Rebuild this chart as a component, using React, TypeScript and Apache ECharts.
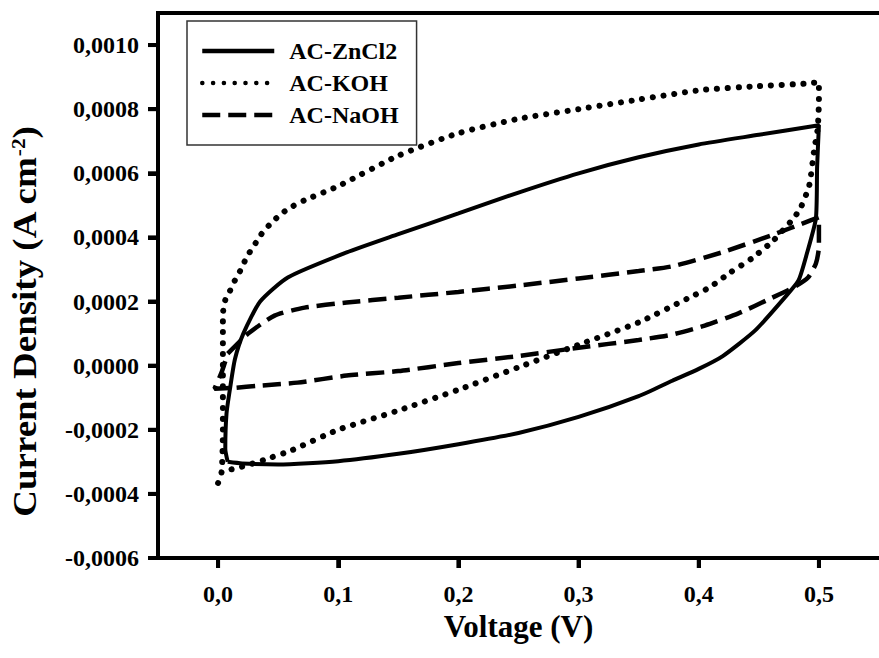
import React, { useEffect, useRef } from "react";
import * as echarts from "echarts";

const seriesNames = ["AC-ZnCl2", "AC-KOH", "AC-NaOH"];
const xTicks = [0, 0.1, 0.2, 0.3, 0.4, 0.5];
const yTicks = [-0.0006, -0.0004, -0.0002, 0, 0.0002, 0.0004, 0.0006, 0.0008, 0.001];

// Voltage (V) and current density (in units of 1e-4 A cm-2)
const znV = [0.008, 0.006, 0.007, 0.010, 0.014, 0.021, 0.035, 0.058, 0.107, 0.15, 0.2, 0.25, 0.3, 0.35, 0.4, 0.45, 0.5, 0.4985, 0.4975, 0.49, 0.483, 0.471, 0.447, 0.42, 0.4, 0.378, 0.35, 0.3, 0.25, 0.2, 0.15, 0.1, 0.05, 0.02, 0.008];
const znI = [-3.0, -2.6, -1.5, -0.7, 0.2, 1.0, 2.0, 2.75, 3.53, 4.1, 4.75, 5.4, 6.0, 6.5, 6.9, 7.2, 7.5, 6.2, 4.6, 3.5, 2.66, 2.1, 1.1, 0.3, -0.1, -0.47, -0.95, -1.6, -2.1, -2.45, -2.75, -2.98, -3.08, -3.05, -3.0];

const kohV = [0.0, 0.003, 0.004, 0.004, 0.004, 0.006, 0.010, 0.014, 0.019, 0.024, 0.030, 0.036, 0.044, 0.053, 0.062, 0.072, 0.1, 0.15, 0.2, 0.25, 0.3, 0.35, 0.403, 0.45, 0.49, 0.5, 0.5, 0.499, 0.496, 0.492, 0.485, 0.479, 0.462, 0.444, 0.426, 0.409, 0.391, 0.35, 0.3, 0.25, 0.2, 0.15, 0.1, 0.06, 0.043, 0.025, 0.004];
const kohI = [-3.66, -3.3, -2.0, 0, 1.6, 2.05, 2.34, 2.66, 3.0, 3.4, 3.75, 4.1, 4.44, 4.75, 4.97, 5.16, 5.6, 6.55, 7.25, 7.7, 8.0, 8.3, 8.6, 8.72, 8.8, 8.84, 8.3, 7.4, 6.72, 5.63, 4.94, 4.6, 3.9, 3.34, 2.9, 2.44, 2.1, 1.35, 0.65, -0.05, -0.75, -1.4, -2.0, -2.66, -2.88, -3.1, -3.3];

const naohV = [0.008, 0.025, 0.047, 0.072, 0.107, 0.15, 0.2, 0.25, 0.3, 0.35, 0.378, 0.419, 0.46, 0.493, 0.5, 0.5, 0.4975, 0.491, 0.479, 0.46, 0.433, 0.405, 0.378, 0.35, 0.3, 0.25, 0.2, 0.15, 0.107, 0.066, 0.033, 0.014, -0.003, 0.003, 0.008];
const naohI = [0.375, 1.0, 1.56, 1.81, 1.97, 2.12, 2.3, 2.5, 2.72, 2.95, 3.1, 3.53, 4.06, 4.53, 4.63, 3.7, 3.19, 2.75, 2.44, 2.1, 1.63, 1.25, 0.97, 0.8, 0.56, 0.3, 0.08, -0.17, -0.31, -0.53, -0.63, -0.69, -0.72, -0.2, 0.375];

const FONT = "Liberation Serif";
const X_MIN = -0.05;
const X_MAX = 0.55;
const Y_MIN = -0.0006;
const Y_MAX = 0.0011;

function pairs(v: number[], i: number[]) {
  return v.map((x, k) => [x, i[k] * 1e-4]);
}

export default function App() {
  const ref = useRef<HTMLDivElement>(null);
  useEffect(() => {
    const chart = echarts.init(ref.current!, null, { renderer: "svg" });
    const lineBase = { type: "line", showSymbol: false, symbol: "none", smooth: 0.2, clip: false, z: 2 };
    const labelFont = { fontFamily: FONT, fontWeight: "bold", fontSize: 24, color: "#000" };
    const lineStyle = { color: "#000", width: 4, cap: "square" };
    const tickLen = 10;
    const tickStyle = { color: "#000", width: 4 };
    chart.setOption({
      animation: false,
      backgroundColor: "#fff",
      grid: {
        left: 158,
        top: 13,
        width: 730,
        height: 545,
        show: false,
      },
      legend: {
        orient: "vertical",
        left: 187,
        top: 21,
        padding: [18, 18, 18, 13],
        itemWidth: 72,
        itemHeight: 14,
        itemGap: 8,
        borderColor: "#333",
        borderWidth: 1.5,
        data: seriesNames,
        itemStyle: { opacity: 0 },
        lineStyle: { width: 4.5 },
        textStyle: { ...labelFont, padding: [0, 0, 0, 10] },
      },
      xAxis: [
        {
          type: "value",
          position: "bottom",
          min: X_MIN,
          max: X_MAX,
          name: "Voltage (V)",
          nameLocation: "middle",
          nameGap: 52,
          nameTextStyle: { fontFamily: FONT, fontWeight: "bold", fontSize: 31, color: "#000" },
          splitLine: { show: false },
          axisLine: { show: true, onZero: false, lineStyle },
          axisTick: { show: true, length: tickLen, lineStyle: tickStyle, customValues: xTicks },
          axisLabel: {
            ...labelFont,
            customValues: xTicks,
            margin: 24,
            formatter: (v: number) => v.toFixed(1).replace(".", ","),
          },
        },
        {
          type: "value",
          position: "top",
          min: 1,
          max: 2,
          splitLine: { show: false },
          axisLine: { show: true, onZero: false, lineStyle },
          axisTick: { show: false },
          axisLabel: { show: false },
        },
      ],
      yAxis: {
        type: "value",
        min: Y_MIN,
        max: Y_MAX,
        interval: 0.0002,
        splitLine: { show: false },
        axisLine: { show: true, onZero: true, onZeroAxisIndex: 1, lineStyle },
        axisTick: { show: true, length: tickLen, lineStyle: tickStyle, customValues: yTicks },
        axisLabel: {
          ...labelFont,
          margin: 19,
          formatter: (v: number) => {
            const ok = yTicks.some((t) => Math.abs(t - v) < 1e-9);
            return ok ? (Math.abs(v) < 1e-9 ? 0 : v).toFixed(4).replace(".", ",") : "";
          },
        },
      },
      graphic: [
        {
          type: "text",
          x: 25,
          y: 322,
          rotation: Math.PI / 2,
          scaleX: 1.12,
          style: {
            text: "Current Density (A cm{sup|-2})",
            font: `bold 33px "${FONT}"`,
            fill: "#000",
            align: "center",
            verticalAlign: "middle",
            rich: {
              sup: { fontFamily: FONT, fontWeight: "bold", fontSize: 19, fill: "#000", padding: [0, 0, 14, 0] },
            },
          },
        },
      ],
      series: [
        {
          ...lineBase,
          name: seriesNames[0],
          data: pairs(znV, znI),
          lineStyle: { color: "#000", width: 4, type: "solid" },
          itemStyle: { color: "#000" },
        },
        {
          ...lineBase,
          name: seriesNames[1],
          data: pairs(kohV, kohI),
          lineStyle: { color: "#000", width: 6, type: [0.1, 10.7], cap: "round" },
          itemStyle: { color: "#000" },
        },
        {
          ...lineBase,
          name: seriesNames[2],
          data: pairs(naohV, naohI),
          lineStyle: { color: "#000", width: 4.5, type: [18, 8] },
          itemStyle: { color: "#000" },
        },
        {
          type: "custom",
          name: "xTicks",
          clip: false,
          silent: true,
          z: 10,
          data: xTicks.map((v) => [v, Y_MIN]),
          renderItem: (_p: any, api: any) => {
            const p = api.coord([api.value(0), api.value(1)]);
            return {
              type: "line",
              shape: { x1: p[0], y1: p[1], x2: p[0], y2: p[1] + tickLen },
              style: { stroke: "#000", lineWidth: 4 },
            };
          },
        },
        {
          type: "custom",
          name: "yTicks",
          clip: false,
          silent: true,
          z: 10,
          data: yTicks.map((v) => [X_MIN, v]),
          renderItem: (_p: any, api: any) => {
            const p = api.coord([api.value(0), api.value(1)]);
            return {
              type: "line",
              shape: { x1: p[0], y1: p[1], x2: p[0] - tickLen, y2: p[1] },
              style: { stroke: "#000", lineWidth: 4 },
            };
          },
        },
      ],
    });
    return () => chart.dispose();
  }, []);
  return (
    <div
      ref={ref}
      style={{ position: "absolute", left: 0, top: 0, width: 879, height: 658, background: "#fff" }}
    />
  );
}
